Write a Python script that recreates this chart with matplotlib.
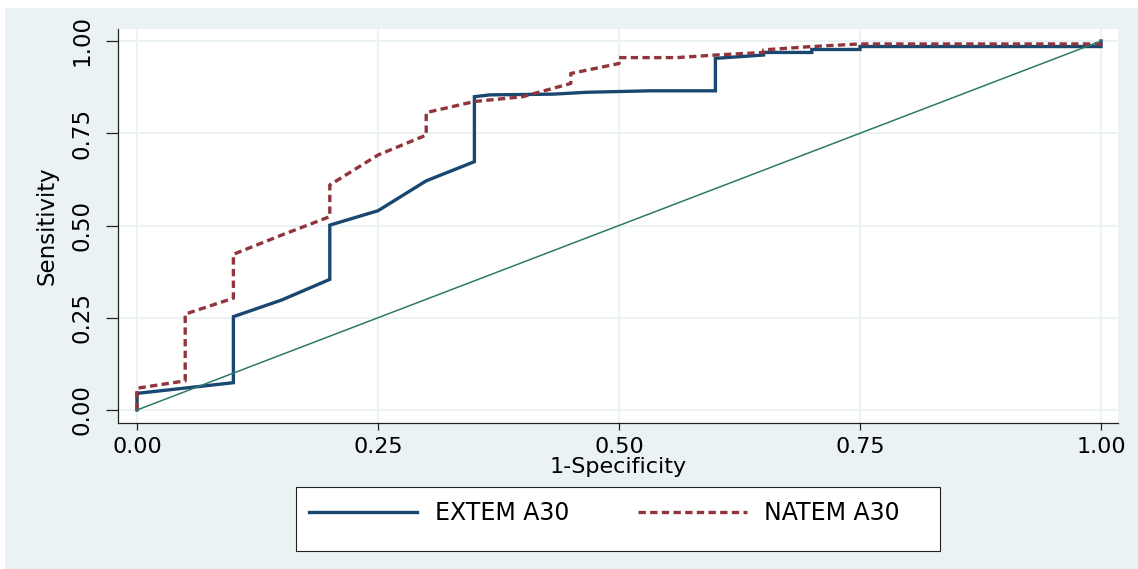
import matplotlib
matplotlib.use("Agg")
import matplotlib.pyplot as plt
from matplotlib.patches import Rectangle
from matplotlib.lines import Line2D

# ROC coordinates (1-specificity, sensitivity)
extem_fpr = [0.00, 0.00, 0.10, 0.10, 0.15, 0.20, 0.20, 0.25, 0.30, 0.35, 0.35,
             0.366, 0.432, 0.466, 0.532, 0.60, 0.60, 0.65, 0.65, 0.70, 0.70,
             0.75, 0.75, 1.00, 1.00]
extem_tpr = [0.000, 0.045, 0.074, 0.253, 0.298, 0.354, 0.501, 0.540, 0.621,
             0.673, 0.849, 0.854, 0.856, 0.861, 0.865, 0.865, 0.953, 0.962,
             0.969, 0.969, 0.977, 0.977, 0.985, 0.985, 1.000]

natem_fpr = [0.00, 0.00, 0.05, 0.05, 0.10, 0.10, 0.15, 0.20, 0.20, 0.25, 0.30,
             0.30, 0.35, 0.40, 0.45, 0.45, 0.50, 0.50, 0.56, 0.60, 0.65, 0.65,
             0.70, 0.75, 1.00, 1.00]
natem_tpr = [0.000, 0.059, 0.079, 0.260, 0.303, 0.422, 0.474, 0.524, 0.610,
             0.691, 0.745, 0.806, 0.836, 0.849, 0.885, 0.912, 0.939, 0.955,
             0.955, 0.962, 0.969, 0.976, 0.985, 0.992, 0.992, 1.000]

ref_x = [0, 1]
ref_y = [0, 1]

ticks = [0.0, 0.25, 0.50, 0.75, 1.0]
tick_labels = ["0.00", "0.25", "0.50", "0.75", "1.00"]
series_labels = ["EXTEM A30", "NATEM A30"]

W, H = 1138, 569
BG = "#EAF2F3"
NAVY = "#1A476F"
MAROON = "#90353B"
TEAL = "#2F7A66"

narrow = ["Liberation Sans Narrow", "DejaVu Sans Condensed", "DejaVu Sans"]
wide = ["DejaVu Sans"]

fig = plt.figure(figsize=(W / 100, H / 100), dpi=100, facecolor="white")

# graph region background
fig.patches.append(Rectangle((5 / W, 0), 1, 1 - 8 / H, transform=fig.transFigure,
                             facecolor=BG, edgecolor="none", zorder=-1))

ax = fig.add_axes([118 / W, 1 - 423 / H, (1118 - 118) / W, (423 - 29) / H])
ax.set_facecolor("white")

ax.plot(extem_fpr, extem_tpr, color=NAVY, lw=2.4, solid_joinstyle="miter",
        label=series_labels[0], zorder=3)
ax.plot(natem_fpr, natem_tpr, color=MAROON, lw=2.4, dashes=(2.2, 1.3),
        label=series_labels[1], zorder=4)
ax.plot(ref_x, ref_y, color=TEAL, lw=1.1, zorder=5)

ax.set_xlim((118 - 137) / 964, (1118 - 137) / 964)
ax.set_ylim(-(423 - 410) / 369, 1 + (41 - 29) / 369)

ax.set_xticks(ticks)
ax.set_xticklabels(tick_labels, fontfamily=wide, fontsize=16)
ax.set_yticks(ticks)
ax.set_yticklabels(tick_labels, fontfamily=narrow, fontsize=16.5,
                   rotation=90, va="center")

ax.tick_params(axis="x", length=5, width=0.9, color="#222222", pad=5)
ax.tick_params(axis="y", length=8.6, width=0.9, color="#222222", pad=9)

ax.grid(True, color=BG, lw=1.5)
ax.set_axisbelow(True)

for side in ("top", "right"):
    ax.spines[side].set_visible(False)
for side in ("left", "bottom"):
    ax.spines[side].set_color("#222222")
    ax.spines[side].set_linewidth(0.9)

ax.set_xlabel("1-Specificity", fontfamily=wide, fontsize=16, labelpad=0)
ax.set_ylabel("Sensitivity", fontfamily=narrow, fontsize=16.5, labelpad=9)

# legend box
fig.patches.append(Rectangle((296 / W, 1 - 551 / H), (940 - 296) / W, (551 - 487) / H,
                             transform=fig.transFigure, facecolor="white",
                             edgecolor="#222222", lw=0.8, zorder=4))
handles = [Line2D([], [], color=NAVY, lw=2.4),
           Line2D([], [], color=MAROON, lw=2.4, dashes=(2.2, 1.3))]
leg = fig.legend(handles, series_labels, loc="center left",
                 bbox_to_anchor=(297 / W, 1 - 513 / H), ncol=2, frameon=False,
                 borderpad=0, handlelength=4.6, handletextpad=0.75,
                 columnspacing=2.9, prop={"family": wide, "size": 17})
leg.set_zorder(6)

fig.savefig("out.png", dpi=100, facecolor="white")
